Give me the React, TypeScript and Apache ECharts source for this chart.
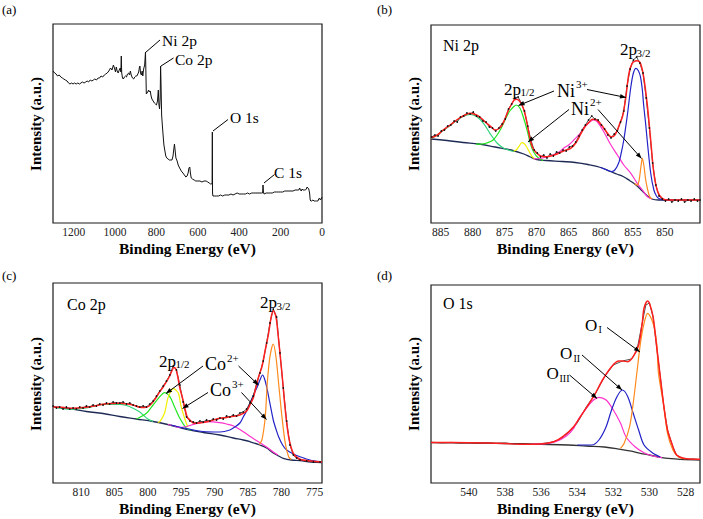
import React, { useEffect, useRef } from 'react';
import * as echarts from 'echarts';

const FONT = "'Liberation Serif', 'Times New Roman', serif";

// ---------- (a) survey spectrum ----------
const surveyTicks = [0, 200, 400, 600, 800, 1000, 1200];
const survey: number[][] = [
  [1300,152],[1292,150],[1285,149],[1278,147],[1270,148],[1262,146],[1255,145],[1248,144],[1240,143],[1232,142],[1225,140],[1218,139],[1210,140],[1203,139],[1196,140],[1188,139],[1180,140],[1172,139],[1165,140],[1158,141],[1150,140],[1142,141],[1135,142],[1128,141],[1120,143],[1112,142],[1105,143],[1098,144],[1090,143],[1082,145],[1075,145],[1068,147],[1060,146],[1052,148],[1045,149],[1038,150],[1030,152],[1022,155],[1015,153],[1008,158],[1003,155],[998,151],[994,156],[990,152],[985,150],[980,153],[975,155],[972,151],[970,167],[968,150],[964,145],[960,144],[955,146],[950,147],[945,146],[940,149],[935,150],[930,148],[926,152],[922,148],[916,145],[910,144],[905,146],[900,147],[895,147],[890,149],[886,151],[882,156],[880,157],[877,150],[873,148],[869,152],[866,147],[862,154],[857,158],[853,171],[851,150],[849,129],[846,130],[842,131],[838,133],[834,131],[830,132],[826,127],[822,124],[816,122],[810,120],[805,119],[800,118],[795,122],[791,133],[788,118],[785,114],[782,125],[780,157],[778,140],[775,108],[772,99],[768,88],[764,78],[760,73],[755,67],[750,65],[744,64],[738,63],[730,63],[725,63],[720,67],[716,74],[713,79],[710,73],[706,65],[700,62],[695,58],[688,55],[680,52],[672,50],[665,48],[658,46],[652,47],[647,50],[643,55],[639,56],[636,50],[632,45],[626,44],[618,43],[610,42],[600,42],[590,42],[580,41],[570,42],[560,42],[552,41],[545,40],[538,39],[533,39],[531,40],[530,91],[529,30],[527,27],[520,27],[510,27],[500,27],[490,28],[480,27],[470,28],[460,28],[450,28],[440,29],[430,28],[420,29],[410,30],[400,29],[390,29],[380,29],[370,29],[360,30],[350,29],[340,30],[330,30],[320,30],[310,30],[300,30],[292,30],[287,30],[285,38],[283,31],[280,29],[270,30],[260,30],[250,30],[240,30],[230,31],[220,31],[210,31],[200,31],[190,31],[180,32],[170,32],[160,32],[150,32],[140,32],[130,33],[120,33],[112,33],[108,35],[104,33],[100,32],[96,34],[92,33],[86,33],[80,33],[76,34],[72,36],[68,35],[64,34],[60,30],[57,23],[54,22],[50,22],[44,23],[38,22],[32,22],[26,22],[20,22],[16,24],[12,25],[8,23],[4,24],[0,26]
];

// ---------- (b) Ni 2p ----------
const niTicks = [850, 855, 860, 865, 870, 875, 880, 885];
const niRaw: number[][] = [
  [886.4,86],[885.9,88],[885.4,87],[884.9,92],[884.4,93],[883.9,97],[883.4,98],[882.9,102],[882.4,101],[881.9,106],[881.4,107],[880.9,110],[880.4,109],[879.9,111],[879.4,107],[878.9,106],[878.4,102],[877.9,101],[877.4,96],[876.9,95],[876.4,92],[875.9,95],[875.4,99],[874.9,104],[874.4,114],[873.9,119],[873.4,125],[872.9,126],[872.4,120],[871.9,112],[871.4,97],[870.9,83],[870.4,73],[869.9,70],[869.4,66],[868.9,68],[868.4,65],[867.9,69],[867.4,67],[866.9,71],[866.4,70],[865.9,73],[865.4,72],[864.9,76],[864.4,77],[863.9,81],[863.4,87],[862.9,93],[862.4,98],[861.9,103],[861.4,107],[860.9,104],[860.4,103],[859.9,98],[859.4,94],[858.9,88],[858.4,85],[857.9,89],[857.4,92],[856.9,101],[856.4,112],[855.9,137],[855.4,154],[854.9,163],[854.4,166],[853.9,160],[853.4,150],[852.9,125],[852.4,95],[851.9,60],[851.4,38],[850.9,27],[850.4,24],[849.9,22],[849.4,24],[848.9,21],[848.4,23],[847.9,22],[847.4,24],[846.9,21],[846.4,23],[845.9,22],[845.4,24],[844.9,22],[844.5,23]
];
const niFit: number[][] = [
  [886.5,85],[885.5,88],[884.6,93],[883.5,98],[882.5,103],[881.5,107],[880.4,109.7],[879.4,108],[878.5,104],[877.8,99.7],[877,95.5],[876.5,93],[876,94],[875.4,98],[874.9,105],[874.4,113],[873.9,119],[873.5,123],[873.1,123.7],[872.7,122],[872.3,118],[871.9,111],[871.5,99.7],[871,83],[870.6,75],[870.2,71.3],[869.4,67],[868.4,66.3],[867.5,67.5],[866.8,69],[865.8,72],[864.7,74.7],[863.9,80],[863.2,88],[862.5,96],[861.9,100.3],[861.3,103.7],[860.8,103.5],[860,99],[859.2,92],[858.6,87],[858.2,86.3],[857.8,88],[857.4,93],[857,100],[856.6,106.3],[856.1,124.7],[855.6,149.7],[855.1,159.7],[854.6,162],[854.3,162.3],[853.8,159.7],[853.3,146.3],[852.7,116.3],[852.2,83],[851.7,49.7],[851.1,31.3],[850.4,24.7],[849.5,23],[844.5,23]
];
const niBg: number[][] = [
  [886.5,84],[884,82.5],[881.5,80.5],[879,79],[876.5,76],[874,73],[872,69],[871,66],[870,63.5],[868.5,62.5],[866,61.5],[864,60.5],[862,58.5],[860,55.5],[858.5,51.5],[857.5,49],[856.5,46.5],[855.5,42.5],[854.5,38],[853.5,32],[852.7,27],[852,24],[851,23],[849,23],[844.5,23]
];
const niSat1: number[][] = [
  [886.5,84.5],[885.5,88],[884.6,92.5],[883.5,97.5],[882.5,102.5],[881.5,106.5],[880.4,108.7],[879.4,106.5],[878.3,99.7],[877.3,89.7],[876.2,80],[875.2,75],[874.2,72.5],[873.5,71.5]
];
const ni3p12: number[][] = [
  [879.5,78.8],[878.5,79],[877.8,80],[876.8,83],[875.7,93],[874.7,106.3],[874.2,112],[873.6,116.3],[873.2,118],[872.6,114.7],[872.1,106.3],[871.5,93],[871,79.7],[870.5,71.3],[869.7,64.7],[869,62.5]
];
const ni2p12: number[][] = [
  [873.6,72],[873.2,73],[872.8,76.3],[872.3,80.3],[871.9,79],[871.6,76.5],[871.3,73],[870.7,66.3],[870.3,64]
];
const niSat2: number[][] = [
  [870.5,64],[869.5,64.5],[868.5,66],[867.5,68],[866.5,71],[865.8,74.7],[865,78],[864.2,83],[863.2,89.7],[862.4,97],[861.6,101.5],[861.1,103],[860.5,101],[859.5,91],[858.5,79],[857.4,68],[856.4,58],[855.3,49.7],[854.3,39.7],[853.3,31.3],[852.7,26.3],[852,24]
];
const ni3p32: number[][] = [
  [860,55.5],[859,53],[858.3,51.5],[857.8,53],[857.2,60],[856.8,70],[856.4,83],[856.1,96],[855.8,110],[855.3,136],[854.9,150],[854.5,154.7],[854.1,152],[853.8,146.3],[853.5,133],[853.3,118],[853,100],[852.7,80],[852.2,50],[851.7,33],[851.3,27],[850.9,24.5],[850,23],[849,23]
];
const ni2p32: number[][] = [
  [854.7,39.5],[854.3,37.8],[854,43],[853.75,55],[853.5,64.7],[853.25,57],[853,44],[852.7,34],[852.4,27],[852,24]
];

// ---------- (c) Co 2p ----------
const coTicks = [775, 780, 785, 790, 795, 800, 805, 810];
const coRaw: number[][] = [
  [814.2,77],[813.7,75],[813.2,76],[812.7,74],[812.2,76],[811.7,74],[811.2,75],[810.7,74],[810.2,76],[809.7,75],[809.2,77],[808.7,76],[808.2,78],[807.7,77],[807.2,79],[806.7,78],[806.2,80],[805.7,79],[805.2,81],[804.7,80],[804.2,80],[803.7,81],[803.2,79],[802.7,80],[802.2,78],[801.7,77],[801.2,76],[800.7,77],[800.2,76],[799.7,79],[799.2,82],[798.7,87],[798.2,92],[797.7,97],[797.2,102],[796.7,108],[796.2,117],[795.7,113],[795.2,98],[794.7,81],[794.2,66],[793.7,62],[793.2,61],[792.7,60],[792.2,62],[791.7,61],[791.2,63],[790.7,62],[790.2,64],[789.7,63],[789.2,65],[788.7,64],[788.2,67],[787.7,66],[787.2,68],[786.7,67],[786.2,70],[785.7,71],[785.2,74],[784.7,80],[784.2,87],[783.7,99],[783.2,110],[782.7,122],[782.2,140],[781.7,160],[781.2,174],[780.7,166],[780.2,130],[779.7,95],[779.2,62],[778.7,38],[778.2,28],[777.7,25],[777.2,23],[776.2,22],[775.2,21],[774.2,21]
];
const coFit: number[][] = [
  [814.2,76],[812.5,75.5],[811.7,74.7],[810.5,75],[809.2,75.7],[808,77],[806.7,78.7],[805.5,79.5],[804.2,79.7],[803,79],[802.2,78],[801.2,75.7],[800.5,75.5],[799.8,77],[799.2,81.3],[798.7,86],[798.2,91.3],[797.7,96],[797.2,101.3],[796.8,106],[796.4,112],[796.1,115.5],[795.8,114],[795.5,106],[795.2,95],[794.8,85],[794.5,76.3],[794.1,66],[793.7,63],[793.2,60],[792.7,59.7],[791.7,60.5],[790.7,62],[789.2,64.7],[788.2,65.5],[787.6,66.3],[786.5,67.5],[785.7,69.7],[785.2,72],[784.7,78],[784.2,85],[783.9,93],[783.4,106.3],[782.9,116.3],[782.4,133],[781.9,149.7],[781.5,166.3],[781.2,172.3],[780.8,166.3],[780.4,143],[779.9,109.7],[779.4,73],[778.9,46.3],[778.2,29.7],[777.2,23.7],[775.5,22],[773.9,21]
];
const coBg: number[][] = [
  [814.2,76],[811.7,74.5],[809.2,71.5],[806.7,69.5],[804.2,66.5],[801.7,64],[799.2,61.5],[796.7,58],[794.2,53.7],[791.7,50.5],[789.2,48],[787.2,45],[785.7,43],[784.7,41.3],[783.2,38],[782.2,35],[781.2,30],[780.4,27],[779.7,24.7],[778.5,23],[777.2,22.3],[775.5,21],[773.9,20.5]
];
const coSat1: number[][] = [
  [814.2,76],[811.7,73.7],[809.2,75],[806.7,78.7],[804.2,78.7],[803.2,77.5],[802.2,74.7],[801.2,71],[800.7,68],[800,64],[799.2,61.5]
];
const co2p12: number[][] = [
  [801.7,64],[800.2,69.7],[799.2,78],[798.2,86.3],[797.5,90.3],[796.7,86.3],[796,76.3],[795.2,64.7],[794.2,54.7],[793.5,53]
];
const co3p12: number[][] = [
  [798.5,60.5],[798.2,61.3],[797.5,69.7],[797,84.7],[796.6,91],[796.2,94.7],[795.8,93],[795.4,89.7],[795,76.3],[794.4,63],[794,56]
];
const coSat2: number[][] = [
  [797,58.5],[796,57],[795.2,55.5],[794.2,56.5],[793.2,58.5],[792.2,60.3],[791.2,61.3],[790.2,61.2],[789.2,60.3],[788.2,59],[787.2,57.3],[786.2,53.5],[785.2,49],[784.2,44.5],[783.2,40.3],[782.2,36],[781.2,31],[780.5,28]
];
const co2p32: number[][] = [
  [796.5,58],[794.2,54.5],[791.7,51.5],[789.2,51],[787.7,53],[786.9,56.3],[786.2,60],[785.7,66],[785.2,72],[784.7,79.7],[784.1,89],[783.6,96.3],[783.2,103],[782.8,108],[782.5,104],[782.2,96.3],[781.7,79.7],[781.2,63],[780.8,54],[780.4,46.3],[779.8,38],[779.2,33],[778.2,29],[777.2,26.3],[775.7,23],[774.2,21.3]
];
const co3p32: number[][] = [
  [783.3,38.5],[782.9,43],[782.4,66.3],[782.1,99.7],[781.7,126.3],[781.2,139],[780.8,126.3],[780.4,99.7],[779.9,66.3],[779.4,39.7],[778.9,26.3],[778.5,23.5]
];

// ---------- (d) O 1s ----------
const oTicks = [528, 530, 532, 534, 536, 538, 540];
const oRaw: number[][] = [
  [542.1,40.8],[541.5,40.1],[541,40.6],[540.5,40],[540,40.5],[539.5,39.8],[539,40.2],[538.5,39.5],[538,39.9],[537.5,39.2],[537,39.5],[536.5,38.9],[536,39.3],[535.5,40.5],[535,43],[534.5,50],[534,60],[533.5,76],[533,89],[532.5,106],[532,118],[531.5,122],[531,124],[530.7,132],[530.4,160],[530.2,178],[530,180],[529.8,166],[529.6,136],[529.4,106],[529.2,76],[529,53],[528.7,36],[528.5,28],[528.2,25],[527.9,23.5],[527.6,24.2],[527.2,23.4]
];
const oFit: number[][] = [
  [542.1,40.5],[540,40.3],[538,39.5],[537.2,38.7],[536.1,39],[535.3,41.3],[534.8,46.3],[534.2,56.3],[533.7,69.7],[533.1,86.3],[532.6,103],[532.1,116.3],[531.7,122],[531.5,122],[531.2,121.3],[530.9,126.3],[530.6,138],[530.4,159.7],[530.3,174.7],[530.1,182],[530,179.7],[529.8,166.3],[529.6,136.3],[529.4,106.3],[529.2,76.3],[529,53],[528.7,36.3],[528.5,28],[528.1,24.7],[527.2,23.7]
];
const oBg: number[][] = [
  [542.1,40.3],[540,40],[538,39.5],[536,38.7],[534.5,38],[533.5,37],[532.5,36],[531.6,33.7],[531,31.8],[530.5,29.7],[530,28],[529.4,25.7],[528.8,24.3],[528.3,23.7],[527.2,23]
];
const oI: number[][] = [
  [531.6,34.7],[531.4,39.7],[531.1,56.3],[530.9,79.7],[530.7,109.7],[530.5,139.7],[530.3,159.7],[530.1,169.7],[529.8,159.7],[529.6,139.7],[529.5,109.7],[529.2,76.3],[529,49.7],[528.7,33],[528.4,26.3],[528,24]
];
const oII: number[][] = [
  [534,38],[533.2,38],[532.8,43],[532.4,56.3],[532.1,73],[531.8,86.3],[531.5,93],[531.2,86.3],[530.9,69.7],[530.6,53],[530.3,38],[529.8,29.7],[529.4,26]
];
const oIII: number[][] = [
  [536.5,39],[535.9,39],[535.2,41.3],[534.6,47],[534.2,54.7],[533.9,64.7],[533.5,74.7],[533.1,83],[532.8,85.7],[532.4,83],[532,73],[531.6,59.7],[531.3,46.3],[530.8,36.3],[530.3,30.3],[529.8,27],[529.3,25.3]
];

// colours
const RED = '#ff1f1f';
const BG = '#1e2a55';
const GREEN = '#22e622';
const TEAL = '#30d47c';
const YELLOW = '#f0f000';
const MAGENTA = '#ff33cc';
const BLUE = '#2323c8';
const ORANGE = '#ff8a1c';

const grids = [
  { left: 53, top: 24, width: 269, height: 199 },
  { left: 431, top: 25, width: 269, height: 198 },
  { left: 53, top: 283, width: 269, height: 200 },
  { left: 431, top: 285, width: 269, height: 198 },
];

function xAx(i: number, min: number, max: number, labels: number[]) {
  return {
    type: 'value', gridIndex: i, min, max, inverse: true,
    axisLine: { show: false }, axisTick: { show: false }, splitLine: { show: false },
    axisLabel: {
      customValues: labels, color: '#222', fontSize: 11.5, fontFamily: FONT, margin: 3,
      formatter: (v: number) => String(v), hideOverlap: false,
    },
  };
}
function yAx(i: number) {
  return { type: 'value', gridIndex: i, min: 0, max: grids[i].height, show: false };
}
function ln(gi: number, data: number[][], color: string, width = 1.2, smooth: number | boolean = 0.3) {
  return {
    type: 'line', xAxisIndex: gi, yAxisIndex: gi, data, showSymbol: false, symbol: 'none',
    smooth, lineStyle: { color, width }, itemStyle: { color }, silent: true,
  };
}
function raw(gi: number, data: number[][]) {
  return {
    type: 'line', xAxisIndex: gi, yAxisIndex: gi, data, showSymbol: true, symbol: 'circle', symbolSize: 1.6,
    smooth: false, lineStyle: { color: '#222', width: 0.8 }, itemStyle: { color: '#111' }, silent: true,
  };
}

function txt(x: number, y: number, text: string, size: number, bold = false, align = 'left', rotation = 0) {
  return {
    type: 'text', x, y, rotation, z: 100,
    style: { text, fill: '#000', fontSize: size, fontFamily: FONT, fontWeight: bold ? 'bold' : 'normal', align, verticalAlign: 'middle' },
  };
}
function arrow(x1: number, y1: number, x2: number, y2: number, head = true) {
  const els: any[] = [{ type: 'line', z: 100, shape: { x1, y1, x2, y2 }, style: { stroke: '#000', lineWidth: 1 } }];
  if (head) {
    const a = Math.atan2(y2 - y1, x2 - x1);
    const L = 6, W = 2.3;
    const bx = x2 - L * Math.cos(a), by = y2 - L * Math.sin(a);
    const nx = -Math.sin(a), ny = Math.cos(a);
    els.push({ type: 'polygon', z: 101, shape: { points: [[x2, y2], [bx + W * nx, by + W * ny], [bx - W * nx, by - W * ny]] }, style: { fill: '#000' } });
  }
  return els;
}

function buildOption() {
  const graphic: any[] = [
    txt(2, 9, '(a)', 13), txt(377, 9, '(b)', 13), txt(2, 275, '(c)', 13), txt(377, 275, '(d)', 13),
    txt(187.5, 248, 'Binding Energy (eV)', 15.5, true, 'center'),
    txt(565.5, 248, 'Binding Energy (eV)', 15.5, true, 'center'),
    txt(187.5, 508, 'Binding Energy (eV)', 15.5, true, 'center'),
    txt(565.5, 508, 'Binding Energy (eV)', 15.5, true, 'center'),
    txt(36, 124, 'Intensity (a.u.)', 15, true, 'center', Math.PI / 2),
    txt(414, 124, 'Intensity (a.u.)', 15, true, 'center', Math.PI / 2),
    txt(36, 384, 'Intensity (a.u.)', 15, true, 'center', Math.PI / 2),
    txt(414, 384, 'Intensity (a.u.)', 15, true, 'center', Math.PI / 2),
    // (a)
    txt(162, 40, 'Ni 2p', 15.5), txt(175, 59, 'Co 2p', 15.5), txt(230, 117, 'O 1s', 15.5), txt(274, 172, 'C 1s', 15.5),
    ...arrow(145.5, 52.5, 160, 40, false), ...arrow(161, 66, 173.5, 58, false),
    ...arrow(213, 131, 228, 119.5, false), ...arrow(264, 183, 274.5, 174.5, false),
    // (b)
    txt(443, 45, 'Ni 2p', 16),
    txt(620, 49, '2p', 17), txt(636.5, 53, '3/2', 11),
    txt(504, 89, '2p', 17), txt(520.5, 92, '1/2', 11),
    txt(557, 91, 'Ni', 18), txt(576, 84, '3+', 11),
    txt(571, 108.5, 'Ni', 18), txt(590, 101.5, '2+', 11),
    ...arrow(554, 91, 518.5, 105.5), ...arrow(587, 89.5, 626, 97.5),
    ...arrow(569, 109.5, 528, 142), ...arrow(598, 109.5, 641.5, 158.5),
    // (c)
    txt(67, 304, 'Co 2p', 16),
    txt(260, 302, '2p', 17), txt(276.5, 306, '3/2', 11),
    txt(159, 361, '2p', 17), txt(175.5, 364, '1/2', 11),
    txt(205, 364, 'Co', 18), txt(227, 358, '2+', 11),
    txt(210, 390, 'Co', 18), txt(232, 384, '3+', 11),
    ...arrow(203, 366, 166, 393.5), ...arrow(238.5, 366, 258.5, 385),
    ...arrow(208, 392.5, 182.5, 408.5), ...arrow(241.5, 392.5, 266.5, 419.5),
    // (d)
    txt(443, 303, 'O 1s', 16),
    txt(585, 325, 'O', 17), txt(598.5, 329, 'I', 10),
    txt(560, 353, 'O', 17), txt(573.5, 358.5, 'II', 10),
    txt(546.5, 373.5, 'O', 17), txt(559.5, 378.5, 'III', 10),
    ...arrow(607, 327.5, 640, 352), ...arrow(582, 355, 622, 390), ...arrow(569.5, 375, 597, 398.5),
  ];

  return {
    animation: false,
    backgroundColor: '#fff',
    textStyle: { fontFamily: FONT },
    grid: grids.map(g => ({
      ...g, show: true, borderColor: '#1a1a1a', borderWidth: 1.2, backgroundColor: 'transparent',
      containLabel: false, outerBoundsMode: 'none',
    })),
    xAxis: [
      xAx(0, 0, 1300, surveyTicks),
      xAx(1, 844.5, 886.5, niTicks),
      xAx(2, 773.9, 814.2, coTicks),
      xAx(3, 527.2, 542.1, oTicks),
    ],
    yAxis: [yAx(0), yAx(1), yAx(2), yAx(3)],
    series: [
      ln(0, survey, '#111', 1, false),

      ln(1, niBg, BG, 1.3, 0.4),
      ln(1, niSat1, TEAL, 1.2),
      ln(1, ni3p12, GREEN, 1.2),
      ln(1, ni2p12, YELLOW, 1.2),
      ln(1, niSat2, MAGENTA, 1.2),
      ln(1, ni3p32, BLUE, 1.2),
      ln(1, ni2p32, ORANGE, 1.2),
      raw(1, niRaw),
      ln(1, niFit, RED, 1.5),

      ln(2, coBg, BG, 1.3, 0.4),
      ln(2, coSat1, TEAL, 1.2),
      ln(2, co2p12, GREEN, 1.2),
      ln(2, co3p12, YELLOW, 1.2),
      ln(2, coSat2, MAGENTA, 1.2),
      ln(2, co2p32, BLUE, 1.2),
      ln(2, co3p32, ORANGE, 1.2),
      raw(2, coRaw),
      ln(2, coFit, RED, 1.5),

      ln(3, oBg, '#333', 1.3, 0.4),
      { ...raw(3, oRaw), showSymbol: false },
      ln(3, oIII, MAGENTA, 1.2),
      ln(3, oII, BLUE, 1.2),
      ln(3, oI, ORANGE, 1.2),
      ln(3, oFit, RED, 1.5),
    ],
    graphic,
  };
}

export default function App() {
  const ref = useRef<HTMLDivElement>(null);
  useEffect(() => {
    const chart = echarts.init(ref.current!, null, { renderer: 'svg' });
    chart.setOption(buildOption() as any);
    return () => chart.dispose();
  }, []);
  return (
    <div
      ref={ref}
      style={{ position: 'fixed', left: 0, top: 0, width: 703, height: 519, background: '#fff' }}
    />
  );
}
